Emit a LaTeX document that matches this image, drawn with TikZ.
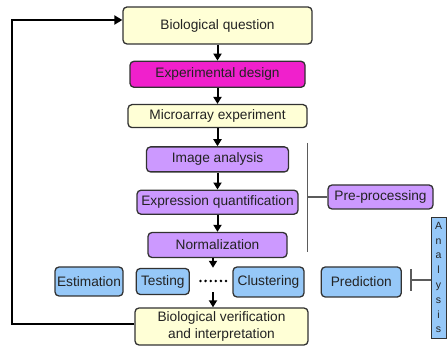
\documentclass[tikz,border=0pt]{standalone}
\usepackage{fontspec}
\setmainfont{Liberation Sans}
\usetikzlibrary{positioning,arrows.meta}

\definecolor{paleyellow}{RGB}{255,255,214}
\definecolor{hotmagenta}{RGB}{240,32,204}
\definecolor{lavender}{RGB}{204,153,255}
\definecolor{skyblue}{RGB}{150,200,248}
\definecolor{edgegray}{RGB}{50,50,50}
\definecolor{textgray}{RGB}{35,35,35}

\tikzset{
  box/.style={draw=edgegray, line width=1.3pt, rounded corners=4pt,
    inner sep=0pt, align=center, text=textgray,
    font=\fontsize{13.7}{17}\selectfont},
  question/.style={box, fill=paleyellow},
  design/.style={box, fill=hotmagenta},
  prep/.style={box, fill=lavender},
  method/.style={box, fill=skyblue},
  arr/.style={line width=2pt, -{Triangle[length=7pt,width=8pt]}},
  feedback/.style={line width=2.5pt, -{Triangle[length=8pt,width=9pt]}},
  bracket/.style={line width=1.3pt, draw=edgegray!80},
}

\begin{document}
\begin{tikzpicture}[x=1pt, y=-1pt]
  \useasboundingbox (0,0) rectangle (448,347);

  % main column
  \node [question, minimum width=189pt, minimum height=37pt] (bq) at (217.5,25.5) {Biological question};
  \node [design, minimum width=175pt, minimum height=26pt, below=16pt of bq] (ed) {Experimental design};
  \node [question, minimum width=179pt, minimum height=23pt, below=16pt of ed] (ma) {Microarray experiment};
  \node [prep, minimum width=142pt, minimum height=25pt, below=18pt of ma] (ia) {Image analysis};
  \node [prep, minimum width=161pt, minimum height=24pt, below=17pt of ia] (eq) {Expression quantification};
  \node [prep, minimum width=139pt, minimum height=25pt, below=17pt of eq] (nm) {Normalization};

  % analysis row
  \node [minimum width=30pt, minimum height=24pt, inner sep=0pt] (dots) at (213,280) {};
  \foreach \i in {0,...,5}
    \fill [black] (200.5+\i*5.1,281) circle (1.4pt);
  \node [method, minimum width=68pt, minimum height=29pt] (est) at (89,281.5) {Estimation};
  \node [method, minimum width=53pt, minimum height=26pt, right=12pt of est] (tst) {Testing};
  \node [method, minimum width=71pt, minimum height=30pt] (clu) at (268.5,282) {Clustering};
  \node [method, minimum width=80pt, minimum height=30pt, right=16pt of clu] (pred) {Prediction};

  \node [question, minimum width=173pt, minimum height=37pt] (bv) at (221.5,326.5) {Biological verification\\and interpretation};

  % side labels
  \node [prep, minimum width=105pt, minimum height=24pt] (pp) at (380.5,197) {Pre-processing};
  \node [draw=edgegray, line width=0.8pt, fill=skyblue, text=textgray, inner sep=0pt,
    minimum width=15pt, minimum height=121pt, align=center,
    font=\fontsize{10.5}{14.8}\selectfont] (an) at (438.5,277.5) {A\\n\\a\\l\\y\\s\\i\\s};

  \coordinate (ptop) at (307.5,143);
  \coordinate (pbot) at (307.5,252);
  \coordinate (atick) at (411,280);
  \coordinate (corner) at (12,20);

  \draw [arr] (bq) -- (ed);
  \draw [arr] (ed) -- (ma);
  \draw [arr] (ma) -- (ia);
  \draw [arr] (ia) -- (eq);
  \draw [arr] (eq) -- (nm);
  \draw [arr] (nm.south -| dots.north) -- (dots.north);
  \draw [arr] (dots.south) -- (bv.north -| dots.south);

  \draw [bracket] (ptop) -- (pbot);
  \draw [bracket] (pp.west) -- (pp.west -| ptop);
  \draw [bracket] (an.west |- atick) -- (atick);
  \draw [bracket] ([yshift=-11pt]atick) -- ([yshift=11pt]atick);

  \draw [feedback] ([yshift=2.5pt]bv.west) -| (corner) -- (corner -| bq.west);
\end{tikzpicture}
\end{document}
